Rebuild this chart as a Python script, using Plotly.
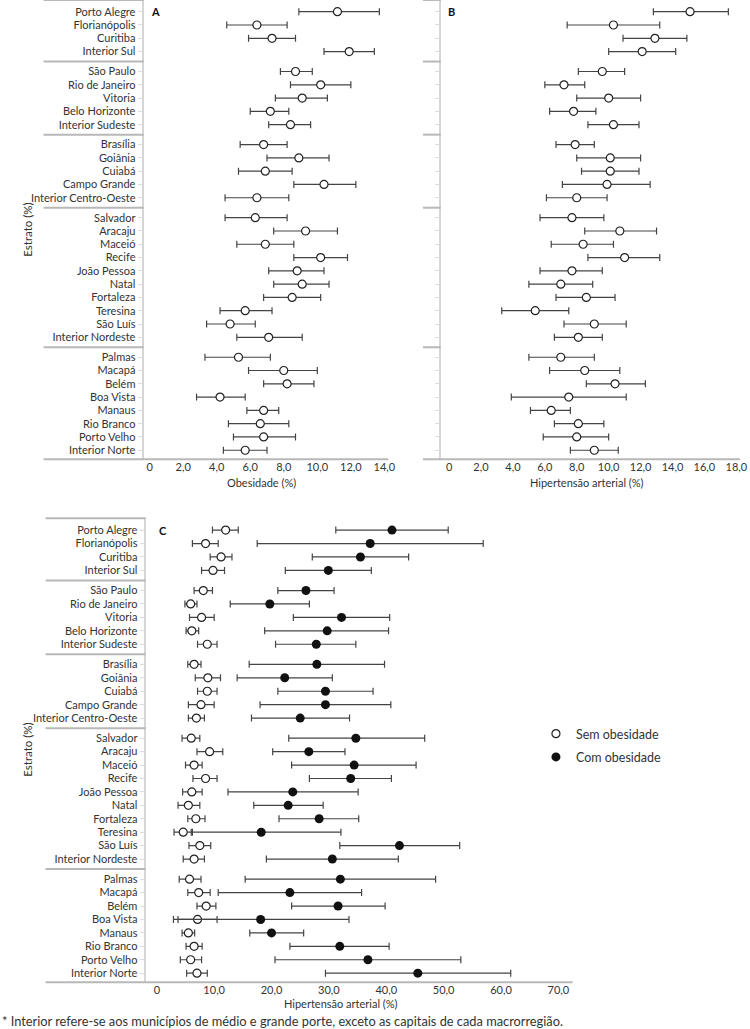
import numpy as np
import plotly.graph_objects as go

W, H = 750, 1029

# ---------------- data ----------------
estratos = ["Porto Alegre", "Florianópolis", "Curitiba", "Interior Sul",
            "São Paulo", "Rio de Janeiro", "Vitoria", "Belo Horizonte", "Interior Sudeste",
            "Brasília", "Goiânia", "Cuiabá", "Campo Grande", "Interior Centro-Oeste",
            "Salvador", "Aracaju", "Maceió", "Recife", "João Pessoa", "Natal", "Fortaleza",
            "Teresina", "São Luís", "Interior Nordeste",
            "Palmas", "Macapá", "Belém", "Boa Vista", "Manaus", "Rio Branco", "Porto Velho",
            "Interior Norte"]
grupo = [0]*4 + [1]*5 + [2]*5 + [3]*10 + [4]*8

# A: Obesidade (%)
obes = [11.2, 6.4, 7.3, 11.9, 8.7, 10.2, 9.1, 7.2, 8.4, 6.8, 8.9, 6.9, 10.4, 6.4,
        6.3, 9.3, 6.9, 10.2, 8.8, 9.1, 8.5, 5.7, 4.8, 7.1,
        5.3, 8.0, 8.2, 4.2, 6.8, 6.6, 6.8, 5.7]
obes_lo = [8.9, 4.6, 5.9, 10.4, 7.8, 8.4, 7.5, 6.0, 7.1, 5.4, 7.0, 5.3, 8.6, 4.5,
           4.5, 7.4, 5.2, 8.6, 7.1, 7.4, 6.8, 4.2, 3.4, 5.2,
           3.3, 5.9, 6.8, 2.8, 5.8, 4.7, 5.0, 4.4]
obes_hi = [13.7, 8.2, 8.7, 13.4, 9.7, 12.0, 10.6, 8.3, 9.6, 8.2, 10.7, 8.5, 12.3, 8.3,
           8.2, 11.2, 8.6, 11.8, 10.4, 10.7, 10.2, 7.3, 6.3, 9.1,
           7.2, 10.0, 9.8, 5.7, 7.7, 8.3, 8.7, 7.0]

# B: Hipertensão arterial (%)
hip = [15.1, 10.3, 12.9, 12.1, 9.6, 7.2, 10.0, 7.8, 10.3, 7.9, 10.1, 10.1, 9.9, 8.0,
       7.7, 10.7, 8.4, 11.0, 7.7, 7.0, 8.6, 5.4, 9.1, 8.1,
       7.0, 8.5, 10.4, 7.5, 6.4, 8.1, 8.0, 9.1]
hip_lo = [12.8, 7.4, 10.9, 10.0, 8.1, 6.0, 8.0, 6.3, 8.7, 6.7, 8.0, 8.3, 7.1, 6.1,
          5.7, 8.5, 6.4, 8.7, 5.7, 5.0, 6.7, 3.3, 7.2, 6.6,
          5.0, 6.3, 8.6, 3.9, 5.1, 6.6, 5.9, 7.6]
hip_hi = [17.5, 13.2, 14.9, 14.2, 11.0, 8.5, 12.0, 9.2, 11.9, 9.1, 12.0, 11.9, 12.6, 9.9,
          9.7, 13.0, 10.3, 13.2, 9.6, 9.0, 10.4, 7.5, 11.1, 9.6,
          9.1, 10.7, 12.3, 11.1, 7.6, 9.7, 10.0, 10.6]

# C: Hipertensão arterial (%) segundo obesidade
sem = [12.0, 8.5, 11.2, 9.8, 8.1, 5.9, 7.8, 6.1, 8.8, 6.5, 8.9, 8.8, 7.7, 6.9,
       6.0, 9.2, 6.5, 8.5, 6.1, 5.5, 6.8, 4.6, 7.5, 6.5,
       5.7, 7.3, 8.6, 7.1, 5.5, 6.5, 5.9, 7.0]
sem_lo = [9.7, 6.2, 9.3, 7.8, 6.5, 4.9, 5.7, 5.1, 7.1, 5.4, 6.7, 7.1, 5.5, 5.5,
          4.4, 7.0, 5.0, 6.3, 4.5, 3.7, 5.4, 3.0, 5.6, 4.6,
          3.9, 5.4, 7.0, 2.9, 4.4, 5.1, 4.1, 5.2]
sem_hi = [14.2, 10.7, 13.1, 11.8, 9.7, 7.0, 10.0, 7.3, 10.5, 7.7, 11.1, 10.5, 10.0, 8.3,
          7.5, 11.5, 7.9, 10.5, 7.9, 7.5, 8.4, 6.2, 9.4, 8.3,
          7.7, 9.3, 10.3, 10.5, 6.6, 7.9, 7.8, 8.8]
com = [41.0, 37.2, 35.5, 29.9, 26.0, 19.7, 32.2, 29.7, 27.8, 27.9, 22.3, 29.4, 29.4, 25.0,
       34.7, 26.5, 34.4, 33.8, 23.7, 22.9, 28.3, 18.2, 42.3, 30.6,
       32.0, 23.2, 31.6, 18.1, 20.0, 31.9, 36.8, 45.5]
com_lo = [31.2, 17.5, 27.1, 22.4, 21.1, 12.8, 23.8, 18.8, 20.7, 16.1, 14.0, 21.1, 18.0, 16.5,
          23.0, 20.2, 23.5, 26.6, 12.4, 16.9, 21.3, 6.0, 31.9, 19.1,
          15.4, 10.7, 23.5, 3.7, 16.2, 23.2, 20.6, 29.4]
com_hi = [50.8, 56.9, 43.9, 37.4, 30.9, 26.6, 40.6, 40.4, 34.7, 39.7, 30.6, 37.7, 40.8, 33.6,
          46.7, 32.8, 45.2, 40.9, 35.1, 29.0, 35.2, 32.1, 52.8, 42.1,
          48.6, 35.7, 39.8, 33.5, 25.6, 40.5, 53.0, 61.7]

xt_A = [0, 2, 4, 6, 8, 10, 12, 14]
xl_A = ["0", "2,0", "4,0", "6,0", "8,0", "10,0", "12,0", "14,0"]
xt_B = [0, 2, 4, 6, 8, 10, 12, 14, 16, 18]
xl_B = ["0", "2,0", "4,0", "6,0", "8,0", "10,0", "12,0", "14,0", "16,0", "18,0"]
xt_C = [0, 10, 20, 30, 40, 50, 60, 70]
xl_C = ["0", "10,0", "20,0", "30,0", "40,0", "50,0", "60,0", "70,0"]

# ---------------- layout helpers ----------------
GAP = 0.5
ypos = [i + g * GAP for i, g in enumerate(grupo)]
seps = []
for i in range(1, len(grupo)):
    if grupo[i] != grupo[i - 1]:
        seps.append((ypos[i] + ypos[i - 1]) / 2)
YR = [ypos[-1] + 0.68, -0.88]

FONT = "Lato, 'Open Sans', sans-serif"
TXT = "#333333"
ERRC = "#444444"


def px(x):
    return x / W


def py(y):
    return 1 - y / H


def err(v, lo, hi):
    v, lo, hi = np.array(v), np.array(lo), np.array(hi)
    return dict(type="data", symmetric=False, array=hi - v, arrayminus=v - lo,
                color=ERRC, thickness=1.2, width=3.5)


open_marker = dict(symbol="circle", size=8, color="white", line=dict(color="#222222", width=1.2))
fill_marker = dict(symbol="circle", size=9, color="#111111", line=dict(color="#111111", width=0))

fig = go.Figure()
fig.add_trace(go.Scatter(x=obes, y=ypos, mode="markers", marker=open_marker,
                         error_x=err(obes, obes_lo, obes_hi), xaxis="x", yaxis="y",
                         showlegend=False, cliponaxis=False))
fig.add_trace(go.Scatter(x=hip, y=ypos, mode="markers", marker=open_marker,
                         error_x=err(hip, hip_lo, hip_hi), xaxis="x2", yaxis="y2",
                         showlegend=False, cliponaxis=False))
fig.add_trace(go.Scatter(x=sem, y=ypos, mode="markers", marker=open_marker, name="Sem obesidade",
                         error_x=err(sem, sem_lo, sem_hi), xaxis="x3", yaxis="y3",
                         legendgroup="a", showlegend=True, cliponaxis=False))
fig.add_trace(go.Scatter(x=com, y=ypos, mode="markers", marker=fill_marker, name="Com obesidade",
                         error_x=err(com, com_lo, com_hi), xaxis="x3", yaxis="y3",
                         legendgroup="b", showlegend=True, cliponaxis=False))

# panel pixel geometry
A_x = (145, 392); B_x = (445, 747); C_x = (147, 578)
AB_y = (0, 459.3); C_y = (518.3, 982.3)


def xrng(zero_px, unit_px, dom):
    return [(dom[0] - zero_px) / unit_px, (dom[1] - zero_px) / unit_px]


xcommon = dict(showgrid=False, zeroline=False, showline=False, ticks="",
               tickfont=dict(family=FONT, size=11, color=TXT))
ycommon = dict(showgrid=False, zeroline=False, showline=True, linecolor="#d6d6d6", linewidth=2,
               ticks="outside", ticklen=4, tickwidth=1, tickcolor="#dddddd",
               tickvals=ypos, range=YR, tickfont=dict(family=FONT, size=11, color=TXT))

fig.update_layout(
    width=W, height=H, autosize=False,
    margin=dict(l=0, r=0, t=0, b=0),
    paper_bgcolor="white", plot_bgcolor="white",
    font=dict(family=FONT, size=11, color=TXT),
    xaxis=dict(domain=[px(A_x[0]), px(A_x[1])], range=xrng(151, 16.93, A_x),
               tickvals=xt_A, ticktext=xl_A, anchor="y", **xcommon),
    yaxis=dict(domain=[py(AB_y[1]), py(AB_y[0])], anchor="x", ticktext=estratos, **ycommon),
    xaxis2=dict(domain=[px(B_x[0]), px(B_x[1])], range=xrng(453.3, 16.11, B_x),
                tickvals=xt_B, ticktext=xl_B, anchor="y2", **xcommon),
    yaxis2=dict(domain=[py(AB_y[1]), py(AB_y[0])], anchor="x2", showticklabels=False, **ycommon),
    xaxis3=dict(domain=[px(C_x[0]), px(C_x[1])], range=xrng(158.3, 5.79, C_x),
                tickvals=xt_C, ticktext=xl_C, anchor="y3", **xcommon),
    yaxis3=dict(domain=[py(C_y[1]), py(C_y[0])], anchor="x3", ticktext=estratos, **ycommon),
    legend=dict(x=px(541), y=py(719), xanchor="left", yanchor="top",
                font=dict(family=FONT, size=12.5, color=TXT), tracegroupgap=4,
                bgcolor="rgba(0,0,0,0)", itemwidth=30),
)

shapes = []
for (xl, xd), ya in [((44, A_x[0]), "y"), ((427, B_x[0]), "y2"), ((46, C_x[0]), "y3")]:
    for s in seps:
        shapes.append(dict(type="line", xref="paper", yref=ya, x0=px(xl), x1=px(xd), y0=s, y1=s,
                           line=dict(color="#b8b8b8", width=2)))
    shapes.append(dict(type="line", xref="paper", yref=ya + " domain", x0=px(xl), x1=px(xd), y0=1, y1=1,
                       line=dict(color="#b8b8b8", width=2)))
for (x0, x1), ya in [((44, A_x[1]), "y"), ((427, B_x[1]), "y2"), ((46, C_x[1]), "y3")]:
    shapes.append(dict(type="line", xref="paper", yref=ya + " domain", x0=px(x0), x1=px(x1), y0=0, y1=0,
                       line=dict(color="#b8b8b8", width=2)))
fig.update_layout(shapes=shapes)

ann = []


def label(text, x, y, size=11, bold=False, angle=0, xanchor="center"):
    ann.append(dict(text=f"<b>{text}</b>" if bold else text, x=px(x), y=py(y), xref="paper", yref="paper",
                    showarrow=False, xanchor=xanchor, yanchor="middle", textangle=angle,
                    font=dict(family=FONT, size=size, color="#111111" if bold else TXT)))


label("A", 157, 12, size=11, bold=True)
label("B", 456, 12, size=11, bold=True)
label("C", 165, 530, size=11, bold=True)
label("Obesidade (%)", 264, 482)
label("Hipertensão arterial (%)", 593, 482)
label("Hipertensão arterial (%)", 344, 1003)
label("Estrato (%)", 27, 230, size=11.5, angle=-90)
label("Estrato (%)", 27, 750, size=11.5, angle=-90)
label("* Interior refere-se aos municípios de médio e grande porte, exceto as capitais de cada macrorregião.",
      0, 1021, size=12.8, xanchor="left")
fig.update_layout(annotations=ann)

fig.write_html("out.html", config={"displayModeBar": False},
               post_script="document.body.style.margin='0';document.body.style.overflow='hidden';")
